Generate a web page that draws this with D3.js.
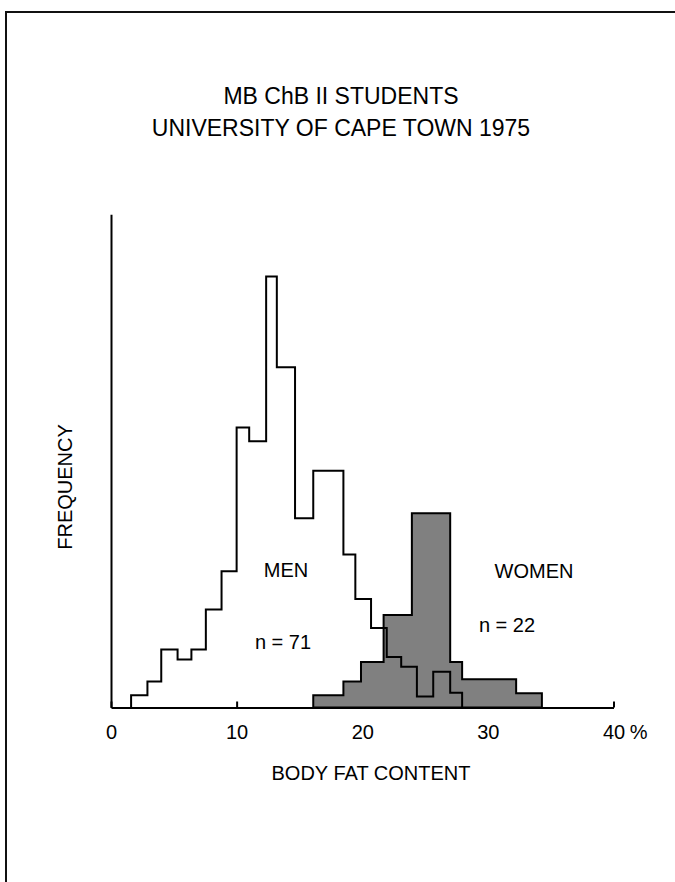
<!DOCTYPE html>
<html>
<head>
<meta charset="utf-8">
<script src="https://cdn.jsdelivr.net/npm/d3@7"></script>
<style>
  html, body { margin: 0; padding: 0; background: #fff; overflow: hidden; }
  svg { display: block; }
  text { font-family: "Liberation Sans", Arial, Helvetica, sans-serif; fill: #000; }
</style>
</head>
<body>
<svg id="chart" width="675" height="882"></svg>
<script>
// Body fat content (%) bin edges and frequencies, men and women
const menEdges = [1.6, 2.9, 4.0, 5.3, 6.4, 7.55, 8.8, 10.0, 11.0, 12.35, 13.2, 14.65,
                  16.1, 18.5, 19.45, 20.7, 21.95, 23.1, 24.35, 25.65, 27.0, 27.95];
const menFreq = [1.0, 2.1, 4.7, 3.9, 4.7, 7.95, 11.05, 22.7, 21.6, 34.95, 27.6,
                 15.35, 19.2, 12.4, 8.8, 6.45, 4.1, 3.3, 0.9, 2.9, 1.2];

const womenEdges = [16.1, 18.5, 19.9, 21.7, 23.95, 27.0, 27.95, 32.25, 34.3];
const womenFreq = [1.0, 2.1, 3.7, 7.5, 15.75, 3.7, 2.3, 1.15];

const xTicks = [0, 10, 20, 30, 40];
const titleLines = ["MB ChB II STUDENTS", "UNIVERSITY OF CAPE TOWN 1975"];
const groupLabels = [
  { name: "MEN", n: "n = 71" },
  { name: "WOMEN", n: "n = 22" }
];

const svg = d3.select("#chart");

// page frame: left and top edges
svg.append("path")
  .attr("d", "M6,882V12H675")
  .attr("fill", "none").attr("stroke", "#111").attr("stroke-width", 2);

const x = d3.scaleLinear().domain([0, 40]).range([111, 613.5]);
const y = d3.scaleLinear().domain([0, 40]).range([707.5, 214.3]);

// title
svg.append("g").selectAll("text").data(titleLines).join("text")
  .attr("x", 341)
  .attr("y", (d, i) => 104 + i * 32)
  .attr("text-anchor", "middle")
  .style("font-size", "23px")
  .text(d => d);

// x axis with inward ticks
const xAxis = d3.axisBottom(x)
  .tickValues(xTicks)
  .tickSizeInner(-6)
  .tickSizeOuter(0)
  .tickPadding(17)
  .tickFormat(d3.format("d"));

const gx = svg.append("g")
  .attr("transform", `translate(0,${y(0)})`)
  .call(xAxis);
gx.select(".domain").attr("stroke", "#000").attr("stroke-width", 2);
gx.selectAll(".tick line").attr("stroke", "#000").attr("stroke-width", 2);
gx.selectAll(".tick text")
  .attr("fill", "#000")
  .style("font-size", "20px")
  .style("font-family", "'Liberation Sans', Arial, sans-serif");

// percent sign after the last tick label
const lastLabel = gx.selectAll(".tick text").filter(d => d === 40).node();
const half = lastLabel.getComputedTextLength() / 2;
gx.append("text")
  .attr("x", x(40) + half + 5)
  .attr("y", 17)
  .attr("dy", "0.71em")
  .attr("text-anchor", "start")
  .attr("fill", "#000")
  .style("font-size", "20px")
  .style("font-family", "'Liberation Sans', Arial, sans-serif")
  .text("%");

// y axis (no ticks)
const yAxis = d3.axisLeft(y).tickValues([]).tickSizeOuter(0);
const gy = svg.append("g")
  .attr("transform", `translate(${x(0)},0)`)
  .call(yAxis);
gy.select(".domain").attr("stroke", "#000").attr("stroke-width", 2);

// axis titles
svg.append("text")
  .attr("transform", `translate(72,487) rotate(-90)`)
  .attr("text-anchor", "middle")
  .style("font-size", "20px")
  .text("FREQUENCY");

svg.append("text")
  .attr("x", 371).attr("y", 780)
  .attr("text-anchor", "middle")
  .style("font-size", "20px")
  .text("BODY FAT CONTENT");

// step outline of a histogram from its edges and frequencies
function stepPoints(edges, freq) {
  const pts = [[edges[0], 0]];
  freq.forEach((f, i) => {
    pts.push([edges[i], f]);
    pts.push([edges[i + 1], f]);
  });
  pts.push([edges[edges.length - 1], 0]);
  return pts;
}

const line = d3.line().x(d => x(d[0])).y(d => y(d[1]));

// women: filled grey histogram
svg.append("path")
  .datum(stepPoints(womenEdges, womenFreq))
  .attr("d", d => line(d) + "Z")
  .attr("fill", "#808080")
  .attr("stroke", "#000")
  .attr("stroke-width", 2)
  .attr("stroke-linejoin", "miter");

// men: open outline histogram
svg.append("path")
  .datum(stepPoints(menEdges, menFreq))
  .attr("d", line)
  .attr("fill", "none")
  .attr("stroke", "#000")
  .attr("stroke-width", 2)
  .attr("stroke-linejoin", "miter");

// group labels
const labelPos = [
  { nameX: 286, nameY: 577, nX: 283, nY: 649 },
  { nameX: 534, nameY: 578, nX: 507, nY: 632 }
];
groupLabels.forEach((g, i) => {
  const p = labelPos[i];
  svg.append("text").attr("x", p.nameX).attr("y", p.nameY)
    .attr("text-anchor", "middle").style("font-size", "20px").text(g.name);
  svg.append("text").attr("x", p.nX).attr("y", p.nY)
    .attr("text-anchor", "middle").style("font-size", "20px").text(g.n);
});
</script>
</body>
</html>
